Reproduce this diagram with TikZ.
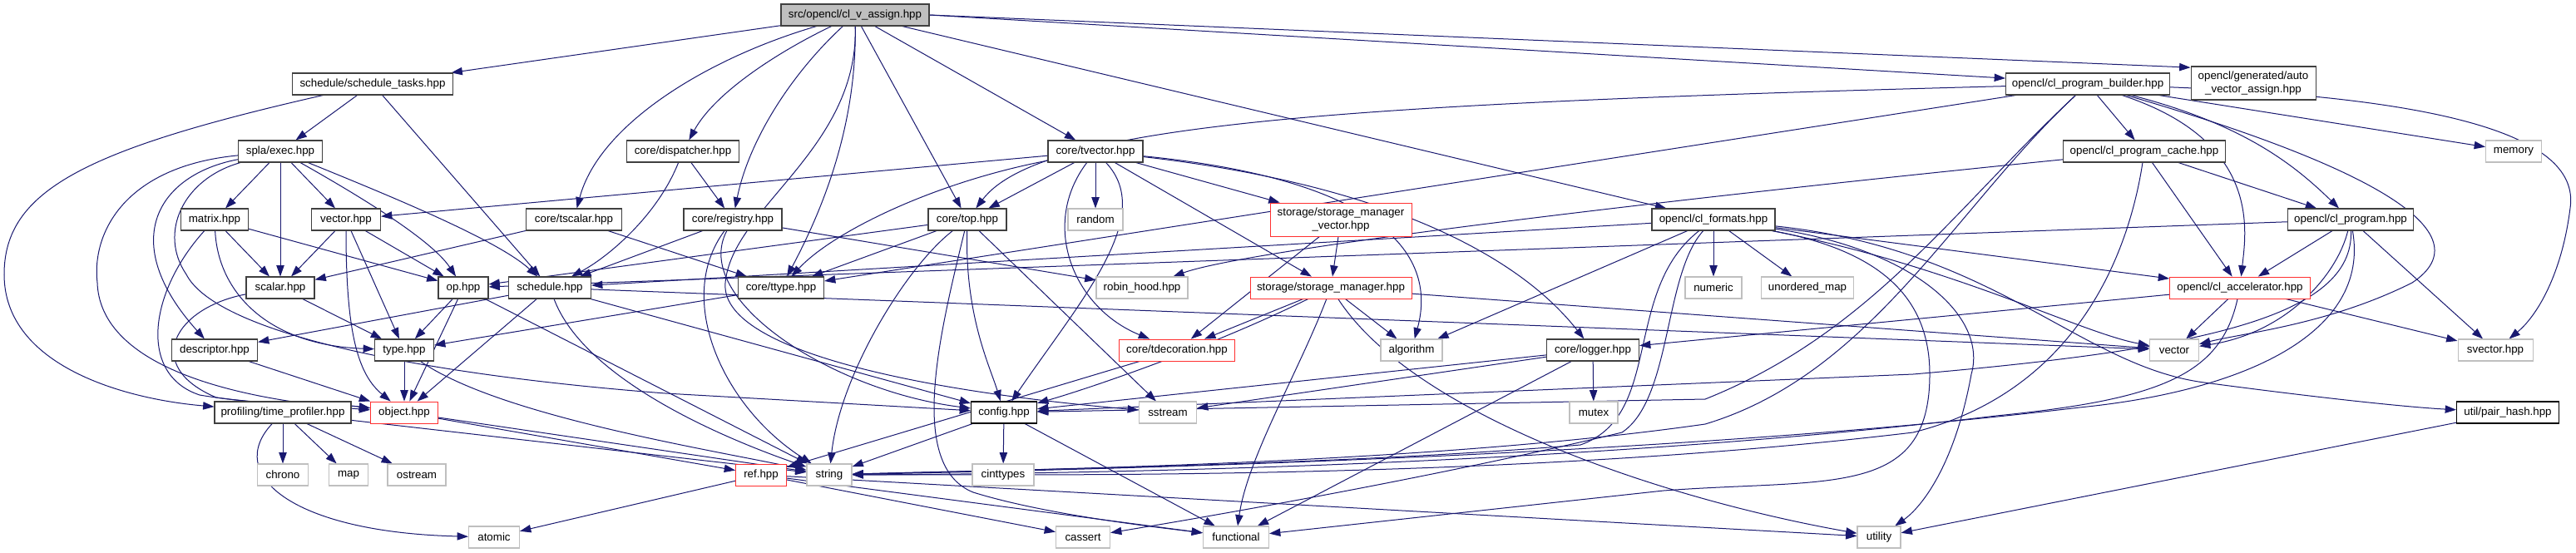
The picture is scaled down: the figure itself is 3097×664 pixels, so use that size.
\documentclass[tikz,border=0pt]{standalone}
\usepackage{fontspec}
\setmainfont{Liberation Sans}
\usetikzlibrary{arrows.meta}
\definecolor{edgecol}{HTML}{191970}
\definecolor{nodegray}{HTML}{404040}
\definecolor{extgray}{HTML}{BFBFBF}
\definecolor{rootgray}{HTML}{BFBFBF}
\definecolor{truncred}{HTML}{FF3030}
\pgfdeclarelayer{bg}
\pgfsetlayers{bg,main}
\tikzset{
  nb/.style={draw=nodegray, line width=0.8pt, fill=white, inner xsep=1pt, inner ysep=0pt,
    minimum height=19.5pt, font=\fontsize{10}{11.5}\selectfont, text=black, align=center},
  ext/.style={nb, draw=extgray},
  trunc/.style={nb, draw=truncred, line width=0.65pt},
  rootnode/.style={nb, fill=rootgray},
  docnode/.style={nb, draw=black},
  bw/.style={minimum width=#1*0.75pt},
  twoline/.style={minimum height=30pt},
  dep/.style={draw=edgecol, line width=0.75pt, -{Triangle[length=10pt,width=7pt]}}
}
\begin{document}
\begin{tikzpicture}[x=0.75pt,y=-0.75pt]
\useasboundingbox (0,0) rectangle (3097,664);
\begin{pgfonlayer}{bg}
\fill[white] (0,0) rectangle (3097,664);
\end{pgfonlayer}
% row 0
\node[rootnode,bw=178] (src) at (1028,18) {src/opencl/cl\_v\_assign.hpp};
% row 1
\node[nb,bw=193] (stasks) at (448,101) {schedule/schedule\_tasks.hpp};
\node[nb,bw=197] (builder) at (2510,101) {opencl/cl\_program\_builder.hpp};
\node[nb,bw=150,twoline] (autovec) at (2709,100) {opencl/generated/auto\\\_vector\_assign.hpp};
% row 2
\node[nb,bw=101] (exec) at (337,182) {spla/exec.hpp};
\node[nb,bw=135] (disp) at (821,182) {core/dispatcher.hpp};
\node[nb,bw=114] (tvec) at (1317,182) {core/tvector.hpp};
\node[nb,bw=195] (cache) at (2578,182) {opencl/cl\_program\_cache.hpp};
\node[ext,bw=67] (memory) at (3022,182) {memory};
% row 3
\node[nb,bw=81] (matrix) at (258,264) {matrix.hpp};
\node[nb,bw=83] (vech) at (416,264) {vector.hpp};
\node[nb,bw=115] (tscalar) at (690,264) {core/tscalar.hpp};
\node[nb,bw=118] (registry) at (881,264) {core/registry.hpp};
\node[nb,bw=94] (top) at (1163,264) {core/top.hpp};
\node[ext,bw=66] (random) at (1317,264) {random};
\node[trunc,bw=170,twoline] (smv) at (1612,264) {storage/storage\_manager\\\_vector.hpp};
\node[nb,bw=148] (formats) at (2060,264) {opencl/cl\_formats.hpp};
\node[nb,bw=151] (program) at (2826,264) {opencl/cl\_program.hpp};
% row 4
\node[nb,bw=82] (scalar) at (337,346) {scalar.hpp};
\node[nb,bw=60] (op) at (557,346) {op.hpp};
\node[nb,bw=99] (sched) at (661,346) {schedule.hpp};
\node[nb,bw=103] (ttype) at (939,346) {core/ttype.hpp};
\node[ext,bw=110] (robin) at (1373,346) {robin\_hood.hpp};
\node[trunc,bw=194] (sm) at (1600,346) {storage/storage\_manager.hpp};
\node[ext,bw=68] (numeric) at (2060,346) {numeric};
\node[ext,bw=111] (umap) at (2173,346) {unordered\_map};
\node[trunc,bw=169] (accel) at (2693,346) {opencl/cl\_accelerator.hpp};
% row 5
\node[nb,bw=103] (descr) at (258,421) {descriptor.hpp};
\node[nb,bw=71] (typeh) at (486,421) {type.hpp};
\node[trunc,bw=139] (tdeco) at (1415,421) {core/tdecoration.hpp};
\node[ext,bw=74] (algo) at (1697,421) {algorithm};
\node[nb,bw=111] (logger) at (1915,421) {core/logger.hpp};
\node[ext,bw=59] (vector) at (2614,421) {vector};
\node[ext,bw=90] (svector) at (3000,421) {svector.hpp};
% row 6
\node[nb,bw=164] (prof) at (340,496) {profiling/time\_profiler.hpp};
\node[trunc,bw=81] (object) at (486,496) {object.hpp};
\node[docnode,bw=79] (config) at (1207,496) {config.hpp};
\node[ext,bw=69] (sstream) at (1404,496) {sstream};
\node[ext,bw=58] (mutex) at (1916,496) {mutex};
\node[docnode,bw=123] (pairhash) at (3015,496) {util/pair\_hash.hpp};
% row 7
\node[ext,bw=61] (chrono) at (340,571) {chrono};
\node[ext,bw=47] (map) at (419,571) {map};
\node[ext,bw=70] (ostream) at (501,571) {ostream};
\node[trunc,bw=61] (ref) at (915,571) {ref.hpp};
\node[ext,bw=54] (string) at (997,571) {string};
\node[ext,bw=74] (cinttypes) at (1206,571) {cinttypes};
% row 8
\node[ext,bw=61] (atomic) at (594,646) {atomic};
\node[ext,bw=65] (cassert) at (1302,646) {cassert};
\node[ext,bw=79] (functional) at (1486,646) {functional};
\node[ext,bw=52] (utility) at (2259,646) {utility};

\begin{pgfonlayer}{bg}
% src
\draw[dep] (src) -- (stasks);
\draw[dep] (src) .. controls (940,60) and (860,110) .. (disp);
\draw[dep] (src) .. controls (950,90) and (900,170) .. (registry);
\draw[dep] (src) .. controls (850,70) and (720,150) .. (tscalar);
\draw[dep] (src) .. controls (1030,150) and (990,250) .. (ttype);
\draw[dep] (src) .. controls (1032,180) and (880,250) .. (872,340) .. controls (865,420) and (1100,470) .. (sstream);
\draw[dep] (src) -- (top);
\draw[dep] (src) -- (tvec);
\draw[dep] (src) -- (formats);
\draw[dep] (src.east) -- (builder.176);
\draw[dep] (src.east) -- (autovec.166);
% schedule_tasks
\draw[dep] (stasks) .. controls (100,180) and (5,230) .. (5,330) .. controls (5,440) and (150,480) .. (prof);
\draw[dep] (stasks) -- (exec);
\draw[dep] (stasks) -- (sched);
% exec
\draw[dep] (exec) -- (matrix);
\draw[dep] (exec) -- (vech);
\draw[dep] (exec) -- (scalar);
\draw[dep] (exec) .. controls (440,240) and (520,290) .. (op);
\draw[dep] (exec) .. controls (480,240) and (600,290) .. (sched);
\draw[dep] (exec) .. controls (190,210) and (140,290) .. (descr);
\draw[dep] (exec) .. controls (150,200) and (110,280) .. (117,340) .. controls (120,430) and (250,478) .. (object);
\draw[dep] (exec) .. controls (220,215) and (190,280) .. (224,330) .. controls (260,400) and (500,450) .. (800,473) -- (config);
% matrix
\draw[dep] (matrix) -- (scalar);
\draw[dep] (matrix) -- (op);
\draw[dep] (matrix) .. controls (180,350) and (165,450) .. (240,475) .. controls (330,490) and (400,485) .. (object);
\draw[dep] (matrix) .. controls (262,350) and (320,415) .. (typeh);
% vector.hpp
\draw[dep] (vech) -- (scalar);
\draw[dep] (vech) -- (op);
\draw[dep] (vech) -- (typeh);
\draw[dep] (vech) .. controls (416,400) and (430,450) .. (object);
% dispatcher
\draw[dep] (disp) -- (registry);
\draw[dep] (disp) .. controls (790,260) and (730,310) .. (sched);
% tvector
\draw[dep] (tvec) -- (vech);
\draw[dep] (tvec) .. controls (1120,220) and (1000,280) .. (ttype);
\draw[dep] (tvec) -- (top);
\draw[dep] (tvec) .. controls (1390,260) and (1300,360) .. (config);
\draw[dep] (tvec) -- (random);
\draw[dep] (tvec) -- (sm);
\draw[dep] (tvec) -- (smv);
\draw[dep] (tvec) .. controls (1650,215) and (1730,300) .. (algo);
\draw[dep] (tvec) .. controls (1650,220) and (1820,300) .. (logger);
\draw[dep] (tvec) .. controls (1250,270) and (1290,370) .. (tdeco);
% tscalar
\draw[dep] (tscalar) -- (scalar);
\draw[dep] (tscalar) -- (ttype);
% registry
\draw[dep] (registry) -- (sched);
\draw[dep] (registry) -- (robin);
\draw[dep] (registry) .. controls (810,360) and (870,490) .. (string);
\draw[dep] (registry) .. controls (830,360) and (1000,470) .. (config);
% top
\draw[dep] (top) -- (op);
\draw[dep] (top) -- (ttype);
\draw[dep] (top) .. controls (1160,380) and (1190,440) .. (config);
\draw[dep] (top) -- (sstream);
\draw[dep] (top) .. controls (1090,320) and (1010,450) .. (string);
\draw[dep] (top) .. controls (1130,400) and (1090,560) .. (1170,592) .. controls (1260,620) and (1400,635) .. (functional);
% storage manager vector
\draw[dep] (smv) -- (sm);
\draw[dep] (smv) -- (tdeco);
% formats
\draw[dep] (formats) -- (numeric);
\draw[dep] (formats) -- (umap);
\draw[dep] (formats) -- (algo);
\draw[dep] (formats) -- (sched);
\draw[dep] (formats) .. controls (1950,350) and (2000,500) .. (1900,535) .. controls (1600,560) and (1200,565) .. (string);
\draw[dep] (formats) .. controls (2000,330) and (2010,480) .. (1950,520) .. controls (1700,580) and (1400,630) .. (cassert);
\draw[dep] (formats) .. controls (2350,320) and (2500,400) .. (vector);
\draw[dep] (formats) -- (accel);
\draw[dep] (formats) .. controls (2300,300) and (2390,380) .. (2370,450) .. controls (2350,560) and (2310,610) .. (utility);
\draw[dep] (formats) .. controls (2250,300) and (2320,350) .. (2320,450) .. controls (2320,600) and (2200,575) .. (2000,590) -- (functional);
\draw[dep] (formats) .. controls (2400,300) and (2500,440) .. (2650,460) .. controls (2800,480) and (2900,490) .. (pairhash);
% builder
\draw[dep] (builder) .. controls (1600,125) and (1250,150) .. (top);
\draw[dep] (builder) -- (ttype);
\draw[dep] (builder) -- (cache);
\draw[dep] (builder) .. controls (2700,150) and (2760,200) .. (program);
\draw[dep] (builder) -- (memory);
\draw[dep] (builder) .. controls (2720,170) and (2700,280) .. (accel);
\draw[dep] (builder) .. controls (2850,200) and (2990,280) .. (2900,340) .. controls (2800,390) and (2700,400) .. (vector);
\draw[dep] (builder) .. controls (3000,120) and (3100,180) .. (3090,250) .. controls (3080,330) and (3050,380) .. (svector);
\draw[dep] (builder) .. controls (2350,250) and (2250,400) .. (2050,480) -- (config);
\draw[dep] (builder) .. controls (2350,250) and (2250,450) .. (2050,510) .. controls (1700,560) and (1200,565) .. (string);
% cache
\draw[dep] (cache) -- (program);
\draw[dep] (cache) -- (accel);
\draw[dep] (cache) .. controls (2000,240) and (1500,300) .. (robin);
\draw[dep] (cache) .. controls (2560,300) and (2500,470) .. (2300,520) .. controls (1800,580) and (1200,570) .. (string);
% program
\draw[dep] (program) -- (accel);
\draw[dep] (program) .. controls (2810,330) and (2750,400) .. (vector);
\draw[dep] (program) -- (svector);
\draw[dep] (program) .. controls (2830,380) and (2650,420) .. (2300,450) -- (config);
\draw[dep] (program) .. controls (2850,400) and (2700,470) .. (2500,490) .. controls (2000,550) and (1300,565) .. (string);
\draw[dep] (program) -- (op);
% accelerator
\draw[dep] (accel) -- (vector);
\draw[dep] (accel) -- (svector);
\draw[dep] (accel) -- (logger);
\draw[dep] (accel) .. controls (2670,450) and (2600,480) .. (2400,500) .. controls (1900,560) and (1300,570) .. (string);
% row 4 sources
\draw[dep] (scalar) -- (typeh);
\draw[dep] (scalar) .. controls (210,370) and (170,440) .. (260,478) .. controls (330,488) and (400,485) .. (object);
\draw[dep] (op) -- (typeh);
\draw[dep] (op) -- (object);
\draw[dep] (op) -- (string);
\draw[dep] (sched) -- (descr);
\draw[dep] (sched) -- (object);
\draw[dep] (sched) .. controls (700,450) and (850,520) .. (string);
\draw[dep] (sched) -- (vector);
\draw[dep] (sched) -- (config);
\draw[dep] (ttype) -- (typeh);
\draw[dep] (sm) -- (tdeco);
\draw[dep] (sm) .. controls (1450,420) and (1300,470) .. (config);
\draw[dep] (sm) .. controls (1560,450) and (1500,550) .. (functional);
\draw[dep] (sm) .. controls (1700,500) and (2000,600) .. (utility);
\draw[dep] (sm) -- (algo);
\draw[dep] (sm) -- (vector);
% row 5 sources
\draw[dep] (descr) -- (object);
\draw[dep] (typeh) -- (object);
\draw[dep] (typeh) .. controls (600,500) and (850,540) .. (string);
\draw[dep] (tdeco) -- (ref);
\draw[dep] (logger) -- (mutex);
\draw[dep] (logger) -- (config);
\draw[dep] (logger) -- (sstream);
\draw[dep] (logger) -- (functional);
% row 6 sources
\draw[dep] (prof) -- (chrono);
\draw[dep] (prof) -- (map);
\draw[dep] (prof) -- (ostream);
\draw[dep] (prof) .. controls (270,570) and (350,640) .. (atomic);
\draw[dep] (prof) -- (string);
\draw[dep] (object) -- (string);
\draw[dep] (object) -- (ref);
\draw[dep] (config) -- (string);
\draw[dep] (config) -- (cinttypes);
\draw[dep] (config) -- (functional);
\draw[dep] (pairhash) -- (utility);
% row 7 sources
\draw[dep] (ref) -- (atomic);
\draw[dep] (ref) -- (cassert);
\draw[dep] (ref) -- (functional);
\draw[dep] (ref) -- (utility);
\end{pgfonlayer}
\end{tikzpicture}
\end{document}
